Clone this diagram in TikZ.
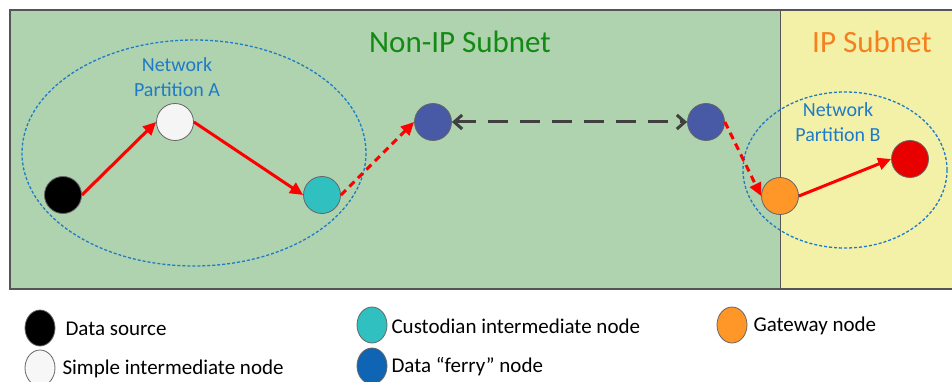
\documentclass[tikz,border=0pt]{standalone}
\usepackage{fontspec}
\setmainfont{Carlito}
\usetikzlibrary{arrows.meta,shapes.geometric}
\definecolor{bggreen}{HTML}{AFD2AF}
\definecolor{bgyellow}{HTML}{F3F0A8}
\definecolor{titlegreen}{HTML}{138A13}
\definecolor{titleorange}{HTML}{F5801E}
\definecolor{partblue}{HTML}{1F7BC8}
\definecolor{ferryblue}{HTML}{4859A6}
\definecolor{legferry}{HTML}{0F64B4}
\definecolor{teal}{HTML}{30C0C0}
\definecolor{gateorange}{HTML}{FF9628}
\definecolor{destred}{HTML}{E80000}
\definecolor{framegray}{HTML}{555555}
\begin{document}
\begin{tikzpicture}[x=1pt,y=-1pt,
  netnode/.style={circle,draw=black!60,line width=0.8pt,minimum size=37pt,inner sep=0pt},
  legnode/.style={ellipse,draw=black!60,line width=0.8pt,minimum width=30pt,minimum height=36pt,inner sep=0pt},
  flow/.style={draw=red,line width=3pt,-{Triangle[length=13pt,width=12pt]}},
  flowdash/.style={flow,dash pattern=on 7pt off 5pt},
  ferrylink/.style={draw=black!75,line width=3pt,dash pattern=on 20pt off 12pt,{Straight Barb[length=8pt,width=14pt]}-{Straight Barb[length=8pt,width=14pt]}},
  partition/.style={draw=partblue,line width=1.3pt,dash pattern=on 3pt off 2pt},
  parttext/.style={text=partblue,font=\fontsize{20}{25}\selectfont,align=center},
  legtext/.style={anchor=west,font=\fontsize{21}{24}\selectfont}
]
\useasboundingbox (0,0) rectangle (952,382);
\fill[white] (0,0) rectangle (952,382);
% subnets
\fill[bggreen] (10,10) rectangle (780,289);
\fill[bgyellow] (780,10) rectangle (952,289);
\draw[framegray,line width=1.2pt] (952,10) -- (10,10) -- (10,289) -- (952,289);
\draw[framegray,line width=1pt] (780,10) -- (780,289);
\node[text=titlegreen,font=\fontsize{31}{36}\selectfont] (tnon) at (460,42) {Non-IP Subnet};
\node[text=titleorange,font=\fontsize{31}{36}\selectfont] (tip) at (872,42) {IP Subnet};
% partitions
\draw[partition] (194,153) ellipse [x radius=172, y radius=113];
\draw[partition] (845,170) ellipse [x radius=102, y radius=78];
\node[parttext] (pa) at (177,77) {Network\\Partition A};
\node[parttext] (pb) at (838,122) {Network\\Partition B};
% nodes
\node[netnode,fill=black] (src) at (63,195) {};
\node[netnode,fill=white!96!black] (simple) at (175,122) {};
\node[netnode,fill=teal] (cust) at (322,195) {};
\node[netnode,fill=ferryblue] (ferryA) at (433,122) {};
\node[netnode,fill=ferryblue] (ferryB) at (706,122) {};
\node[netnode,fill=gateorange] (gate) at (780,196) {};
\node[netnode,fill=destred] (dest) at (910,159) {};
% connectors
\draw[flow] (src.east) -- (simple.west);
\draw[flow] (simple.east) -- (cust.west);
\draw[flowdash] (cust.east) -- (ferryA.west);
\draw[ferrylink] (ferryA.east) -- (ferryB.west);
\draw[flowdash] (ferryB.east) -- (gate.west);
\draw[flow] (gate.east) -- (dest.west);
% legend
\node[legnode,fill=black] (l1) at (40,328) {};
\node[legtext] (t1) at (62,329) {Data source};
\node[legnode,fill=white!97!black] (l2) at (40,368) {};
\node[legtext] (t2) at (59,369) {Simple intermediate node};
\node[legnode,fill=teal] (l3) at (372,325) {};
\node[legtext] (t3) at (388,326) {Custodian intermediate node};
\node[legnode,fill=legferry] (l4) at (372,366) {};
\node[legtext] (t4) at (388,367) {Data “ferry” node};
\node[legnode,fill=gateorange] (l5) at (732,325) {};
\node[legtext] (t5) at (750,326) {Gateway node};
\end{tikzpicture}
\end{document}
